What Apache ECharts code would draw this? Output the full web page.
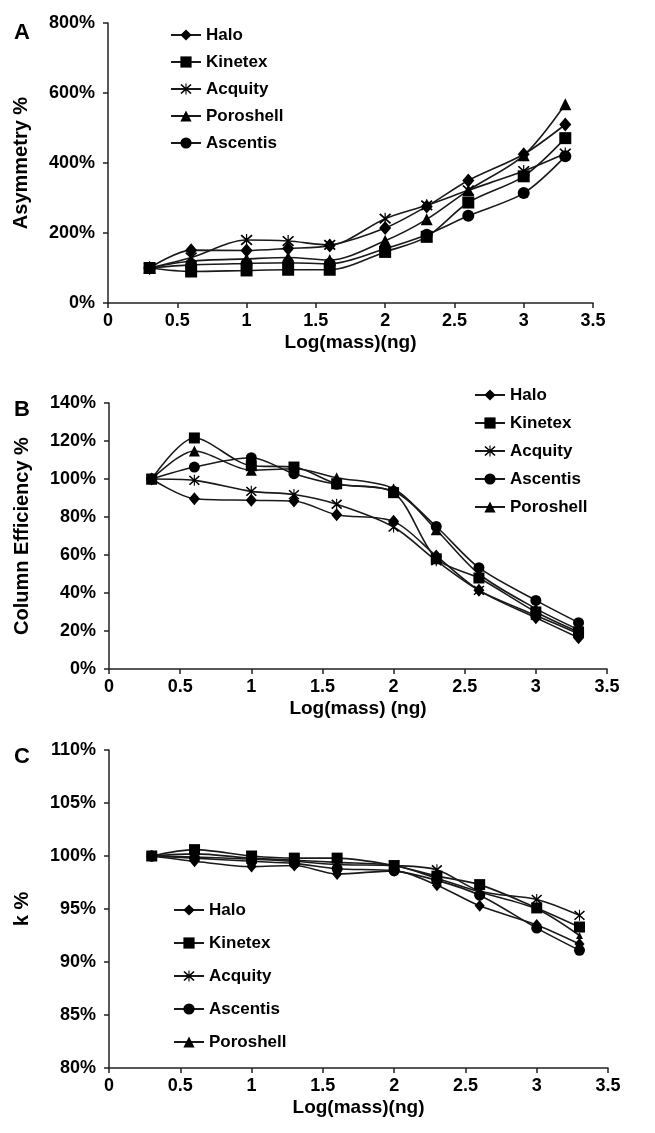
<!DOCTYPE html>
<html>
<head>
<meta charset="utf-8">
<script src="https://cdn.jsdelivr.net/npm/echarts@6/dist/echarts.min.js"></script>
<style>
  html, body { margin: 0; padding: 0; background: #fff; }
  #main { width: 655px; height: 1133px; }
</style>
</head>
<body>
<div id="main"></div>
<script type="text/javascript">
// log(mass) positions shared by all three panels
var logMass = [0.3, 0.6, 1, 1.3, 1.6, 2, 2.3, 2.6, 3, 3.3];

// A - asymmetry %
var asymHalo      = [100, 151, 150, 156, 164, 214, 276, 350, 425, 510];
var asymKinetex   = [100, 90, 93, 95, 95, 146, 189, 287, 362, 471];
var asymAcquity   = [100, 130, 180, 177, 166, 241, 279, 322, 377, 427];
var asymPoroshell = [100, 120, 126, 130, 123, 178, 239, 322, 422, 568];
var asymAscentis  = [100, 109, 113, 115, 112, 155, 195, 249, 314, 419];

// B - column efficiency %
var effHalo      = [100, 89.6, 88.8, 88.4, 81.2, 77.7, 59.5, 41.4, 27, 16.5];
var effKinetex   = [100, 121.6, 107, 106.3, 97.5, 92.8, 58, 47.9, 30, 19.5];
var effAcquity   = [100, 99.3, 93.5, 91.8, 86.7, 74.7, 57, 41.4, 28.2, 18.6];
var effAscentis  = [100, 106.3, 111.2, 102.8, 97.2, 93.5, 75, 53.3, 36.1, 24.4];
var effPoroshell = [100, 114.7, 104.6, 105.4, 100.7, 94.9, 73.3, 50, 31.8, 20.7];

// C - k %
var kHalo      = [100, 99.5, 99.0, 99.1, 98.3, 98.6, 97.25, 95.3, 93.5, 91.7];
var kKinetex   = [100, 100.6, 100, 99.8, 99.8, 99.1, 98.1, 97.3, 95.1, 93.3];
var kAcquity   = [100, 99.9, 99.7, 99.5, 99.2, 99.1, 98.7, 96.7, 95.9, 94.4];
var kAscentis  = [100, 99.8, 99.5, 99.3, 98.8, 98.6, 97.7, 96.3, 93.2, 91.1];
var kPoroshell = [100, 100.2, 99.8, 99.6, 99.4, 99.1, 97.9, 96.6, 95.0, 92.5];

var legendA = ['Halo', 'Kinetex', 'Acquity', 'Poroshell', 'Ascentis'];
var legendBC = ['Halo', 'Kinetex', 'Acquity', 'Ascentis', 'Poroshell'];

var FONT = 'Liberation Sans, Arial, sans-serif';
var STAR = 'path://M9 0 L11 0 L11 20 L9 20 Z M2 1 L20 17 L18 19 L0 3 Z M18 1 L20 3 L2 19 L0 17 Z';

var markers = {
    Halo: { symbol: 'diamond', size: [12, 14] },
    Kinetex: { symbol: 'rect', size: 12 },
    Acquity: { symbol: STAR, size: 12 },
    Poroshell: { symbol: 'triangle', size: 12 },
    Ascentis: { symbol: 'circle', size: 12 }
};

function pairs(ys) {
    return logMass.map(function (x, i) { return [x, ys[i]]; });
}

function line(name, ys, idx, size) {
    var m = markers[name];
    return {
        name: name,
        type: 'line',
        xAxisIndex: idx,
        yAxisIndex: idx,
        smooth: 0.3,
        symbol: m.symbol,
        symbolSize: size || m.size,
        showAllSymbol: true,
        itemStyle: { color: '#000', borderWidth: 0 },
        lineStyle: { color: '#1a1a1a', width: 1.6 },
        emphasis: { disabled: true },
        data: pairs(ys)
    };
}

function xAxis(idx, name) {
    return {
        type: 'value', gridIndex: idx, min: 0, max: 3.5, interval: 0.5,
        name: name, nameLocation: 'middle', nameGap: 30,
        nameTextStyle: { fontFamily: FONT, fontWeight: 'bold', fontSize: 19, color: '#000' },
        axisLine: { show: true, onZero: false, lineStyle: { color: '#222', width: 1.5 } },
        axisTick: { show: true, length: 5, lineStyle: { color: '#222', width: 1.5 } },
        axisLabel: { margin: 9, fontFamily: FONT, fontWeight: 'bold', fontSize: 18, color: '#000' },
        splitLine: { show: false }
    };
}

function yAxis(idx, name, min, max, step, gap) {
    return {
        type: 'value', gridIndex: idx, min: min, max: max, interval: step,
        name: name, nameLocation: 'middle', nameGap: gap,
        nameTextStyle: { fontFamily: FONT, fontWeight: 'bold', fontSize: 20, color: '#000' },
        axisLine: { show: true, lineStyle: { color: '#222', width: 1.5 } },
        axisTick: { show: true, length: 5, lineStyle: { color: '#222', width: 1.5 } },
        axisLabel: {
            margin: 13, fontFamily: FONT, fontWeight: 'bold', fontSize: 18, color: '#000',
            formatter: function (v) { return v + '%'; }
        },
        splitLine: { show: false }
    };
}

function legend(left, top, gap, names) {
    return {
        orient: 'vertical', left: left, top: top, itemGap: gap, padding: 0,
        itemWidth: 30, itemHeight: 14, selectedMode: false,
        data: names,
        textStyle: { fontFamily: FONT, fontWeight: 'bold', fontSize: 17, color: '#000', lineHeight: 20 }
    };
}

var chart = echarts.init(document.getElementById('main'), null, { renderer: 'canvas' });
chart.setOption({
    backgroundColor: '#fff',
    animation: false,
    title: [
        { text: 'A', left: 9, top: 17, textStyle: { fontFamily: FONT, fontWeight: 'bold', fontSize: 22, color: '#000' } },
        { text: 'B', left: 9, top: 394, textStyle: { fontFamily: FONT, fontWeight: 'bold', fontSize: 22, color: '#000' } },
        { text: 'C', left: 9, top: 741, textStyle: { fontFamily: FONT, fontWeight: 'bold', fontSize: 22, color: '#000' } }
    ],
    legend: [
        legend(170, 25, 7, legendA),
        legend(474, 385, 8, legendBC),
        legend(173, 900, 13, legendBC)
    ],
    grid: [
        { left: 108, top: 23, width: 485, height: 280 },
        { left: 109, top: 403, width: 498, height: 266 },
        { left: 109, top: 750, width: 499, height: 318 }
    ],
    xAxis: [
        xAxis(0, 'Log(mass)(ng)'),
        xAxis(1, 'Log(mass) (ng)'),
        xAxis(2, 'Log(mass)(ng)')
    ],
    yAxis: [
        yAxis(0, 'Asymmetry %', 0, 800, 200, 77),
        yAxis(1, 'Column Efficiency %', 0, 140, 20, 77),
        yAxis(2, 'k %', 80, 110, 5, 77)
    ],
    series: [
        line('Halo', asymHalo, 0),
        line('Kinetex', asymKinetex, 0),
        line('Acquity', asymAcquity, 0),
        line('Poroshell', asymPoroshell, 0),
        line('Ascentis', asymAscentis, 0),

        line('Halo', effHalo, 1, [11, 13]),
        line('Kinetex', effKinetex, 1, 11),
        line('Acquity', effAcquity, 1, 11),
        line('Ascentis', effAscentis, 1, 11),
        line('Poroshell', effPoroshell, 1, 11),

        line('Halo', kHalo, 2, [10, 12]),
        line('Kinetex', kKinetex, 2, 11),
        line('Acquity', kAcquity, 2, 11),
        line('Ascentis', kAscentis, 2, 11),
        line('Poroshell', kPoroshell, 2, 7)
    ]
});
</script>
</body>
</html>
